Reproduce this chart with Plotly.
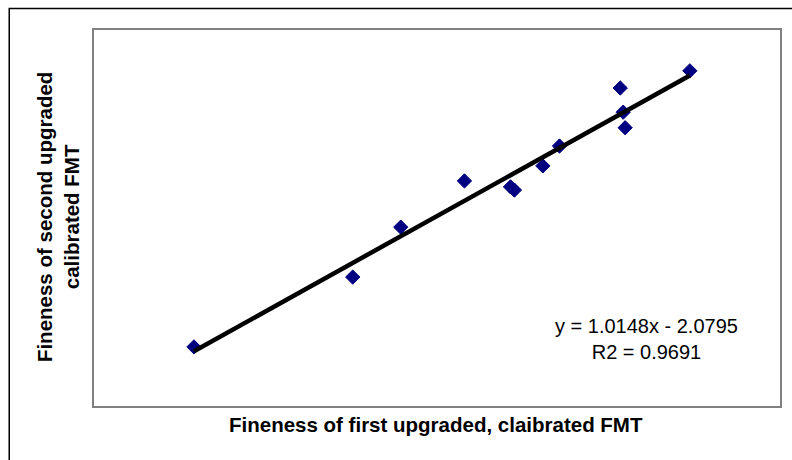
import plotly.graph_objects as go

# Data (fineness values, arbitrary units consistent with trendline)
first_fmt = [140.2, 156.4, 161.3, 167.8, 172.5, 172.9, 175.8, 177.5, 183.7, 184.0, 184.2, 190.8]
second_fmt = [141.0, 154.0, 163.3, 171.9, 170.8, 170.2, 174.7, 178.4, 189.2, 184.7, 181.8, 192.4]

slope = 1.0148
intercept = -2.0795
r2 = 0.9691

x_title = "Fineness of first upgraded, claibrated FMT"
y_title = "Fineness of second upgraded<br>calibrated FMT"

trend_x = [min(first_fmt), max(first_fmt)]
trend_y = [slope * v + intercept for v in trend_x]

W, H = 792, 460
PL, PR, PT, PB = 94, 782, 30, 406  # plot area in page pixels
L, T = PL, PT
R = W - PR
B = H - PB
pw, ph = PR - PL, PB - PT


def px_to_paper_x(px):
    return (px - PL) / pw


def px_to_paper_y(py):
    return (PB - py) / ph


fig = go.Figure()
fig.add_trace(go.Scatter(
    x=first_fmt, y=second_fmt, mode="markers",
    marker=dict(symbol="diamond", size=11, color="#000080",
                line=dict(color="#000080", width=1)),
    showlegend=False, hoverinfo="x+y"))
fig.add_trace(go.Scatter(
    x=trend_x, y=trend_y, mode="lines",
    line=dict(color="black", width=4.5),
    showlegend=False, hoverinfo="skip"))

axis_common = dict(showline=True, linecolor="#808080", linewidth=2, mirror=True,
                   showgrid=False, zeroline=False, showticklabels=False, ticks="")
fig.update_xaxes(range=[130, 200], **axis_common)
fig.update_yaxes(range=[130, 200], **axis_common)

font_family = "Liberation Sans, Arial, sans-serif"

fig.add_annotation(text="<b>" + x_title + "</b>", xref="paper", yref="paper",
                   x=px_to_paper_x(437), y=px_to_paper_y(424),
                   xanchor="center", yanchor="middle", showarrow=False,
                   font=dict(family=font_family, size=20.5, color="black"))
fig.add_annotation(text="<b>" + y_title.replace("<br>", "</b><br><b>") + "</b>",
                   xref="paper", yref="paper",
                   x=px_to_paper_x(58), y=px_to_paper_y(217),
                   xanchor="center", yanchor="middle", showarrow=False, textangle=-90,
                   font=dict(family=font_family, size=20.5, color="black"))
fig.add_annotation(text=f"y = {slope:.4f}x - {abs(intercept):.4f}<br>R2 = {r2:.4f}",
                   xref="paper", yref="paper",
                   x=px_to_paper_x(648), y=px_to_paper_y(339),
                   xanchor="center", yanchor="middle", showarrow=False, align="center",
                   font=dict(family=font_family, size=20, color="black"))

# outer chart frame
fig.add_shape(type="rect", xref="paper", yref="paper",
              x0=px_to_paper_x(9), x1=px_to_paper_x(805),
              y0=px_to_paper_y(475), y1=px_to_paper_y(8.5),
              line=dict(color="black", width=1.5), fillcolor="rgba(0,0,0,0)", layer="below")

fig.update_layout(width=W, height=H, margin=dict(l=L, r=R, t=T, b=B),
                  paper_bgcolor="white", plot_bgcolor="white",
                  font=dict(family=font_family, color="black"))

fig.write_html("out.html", config={"displayModeBar": False},
               post_script="document.body.style.margin='0';document.body.style.overflow='hidden';")
